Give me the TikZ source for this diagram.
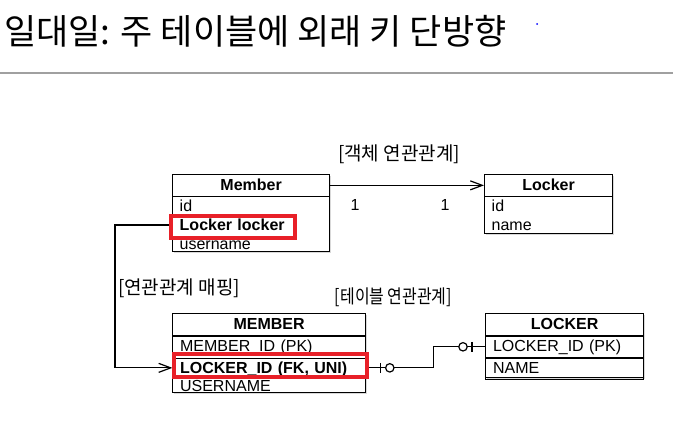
\documentclass[tikz,border=0pt]{standalone}
\usepackage{fontspec}
\setmainfont{Liberation Sans}
\newfontfamily\kr{Noto Sans CJK KR}
\usepackage{graphicx}
\usepackage{xcolor}
\usepackage{tikz}
\usetikzlibrary{
  arrows.meta,
  positioning,
  calc,
  shadows
}
\definecolor{mark}{RGB}{232,32,40}
\definecolor{rulegray}{RGB}{160,160,160}

\begin{document}
\begin{tikzpicture}[x=1pt,y=-1pt,
  tbl/.style={rectangle,draw,line width=1.2pt,fill=white,inner sep=0pt,anchor=north west,
    drop shadow={shadow xshift=1.5pt,shadow yshift=-1.5pt,opacity=0.3}},
  hd/.style={rectangle,draw,line width=1.2pt,inner sep=0pt,minimum width=#1,
    text height=15.5pt,text depth=6pt,font=\fontsize{16}{18}\selectfont\bfseries},
  row/.style={rectangle,inner xsep=7.5pt,inner ysep=0pt,text width=#1,align=left,
    text height=15pt,text depth=3.5pt,font=\fontsize{16}{18}\selectfont},
  cell/.style={row=#1,draw,line width=1.2pt,text depth=6pt},
  a/.style={-{Straight Barb[length=12pt,width=9pt]},line width=1.2pt},
  er/.style={line width=1.2pt},
  hl/.style={draw=mark,line width=4pt},
  lbl/.style={inner sep=0pt,anchor=base,font=\fontsize{16}{18}\selectfont},
  lbk/.style={inner sep=0pt,anchor=base,font=\kr\fontsize{19}{19}\selectfont}
]
\useasboundingbox (0,0) rectangle (673,447);

% title
\node[inner sep=0pt,anchor=base west,font=\kr\fontsize{35}{35}\selectfont] (title) at (4,44)
  {일대일: 주 테이블에 외래 키 단방향};
\draw[rulegray,line width=1.5pt] (0,73) -- (673,73);
\fill[blue] (537,24) circle[radius=1pt];

% object model
\node[tbl,minimum width=157pt,minimum height=76.5pt] (member) at (172,174) {};
\node[hd=157pt,below=0pt of member.north] (memh) {Member};
\node[row=142pt,below right=0pt and 0pt of memh.south west] (mid) {id};
\node[row=142pt,below=0pt of mid] (mlk) {\bfseries Locker locker};
\node[row=142pt,below=0pt of mlk] (mname) {username};

\node[tbl,minimum width=128pt,minimum height=58.5pt] (locker) at (484,174) {};
\node[hd=128pt,below=0pt of locker.north] (lckh) {Locker};
\node[row=113pt,below right=0pt and 0pt of lckh.south west] (lcid) {id};
\node[row=113pt,below=0pt of lcid] (lcname) {name};

\draw[a] (memh.east) -- (lckh.west);
\node[lbl] (one1) at (355,210) {1};
\node[lbl] (one2) at (445,210) {1};
\node[lbk] (objrel) at (399,160) {[객체 연관관계]};

% table model
\node[tbl,minimum width=193pt,minimum height=78.5pt] (mtab) at (172,313) {};
\node[hd=193pt,below=0pt of mtab.north] (mtabh) {MEMBER};
\node[cell=178pt,text height=15pt,text depth=7pt,below right=0pt and 0pt of mtabh.south west] (mmid) {MEMBER\_ID (PK)};
\node[row=178pt,text height=14pt,below=0pt of mmid] (mlid) {\bfseries LOCKER\_ID (FK, UNI)};
\node[row=178pt,text height=14pt,below=0pt of mlid] (muser) {USERNAME};

\node[tbl,minimum width=158pt,minimum height=63.5pt] (ltab) at (485,313) {};
\node[hd=158pt,below=0pt of ltab.north] (ltabh) {LOCKER};
\node[cell=143pt,below right=0pt and 0pt of ltabh.south west] (lid) {LOCKER\_ID (PK)};
\node[cell=143pt,below=0pt of lid] (lname) {NAME};

\node[lbk] (maprel) at (179,294) {[연관관계 매핑]};
\node[lbk] (tabrel) at (393.5,303) {\scalebox{0.84}[1]{[테이블 연관관계]}};

% mapping
\draw[a] (mlk.west) -- ++(-57,0) |- (mlid.west);

% zero or one at both ends
\draw[er] (mlid.east) -- ++(68,0) |- (lid.west);
\draw[er] ($(mlid.east)+(15,-5)$) -- ++(0,10);
\draw[er,fill=white] ($(mlid.east)+(24,0)$) circle[radius=4.2pt];
\draw[er] ($(lid.west)+(-13,-5)$) -- ++(0,10);
\draw[er,fill=white] ($(lid.west)+(-22,0)$) circle[radius=4.2pt];

% highlights
\draw[hl] ($(mlk.north west)+(-1,0.5)$) rectangle ($(mlk.south west)+(123,3)$);
\draw[hl] ($(mlid.north west)+(1.5,-4.5)$) rectangle ($(mlid.south east)+(1.5,0.5)$);
\end{tikzpicture}
\end{document}
